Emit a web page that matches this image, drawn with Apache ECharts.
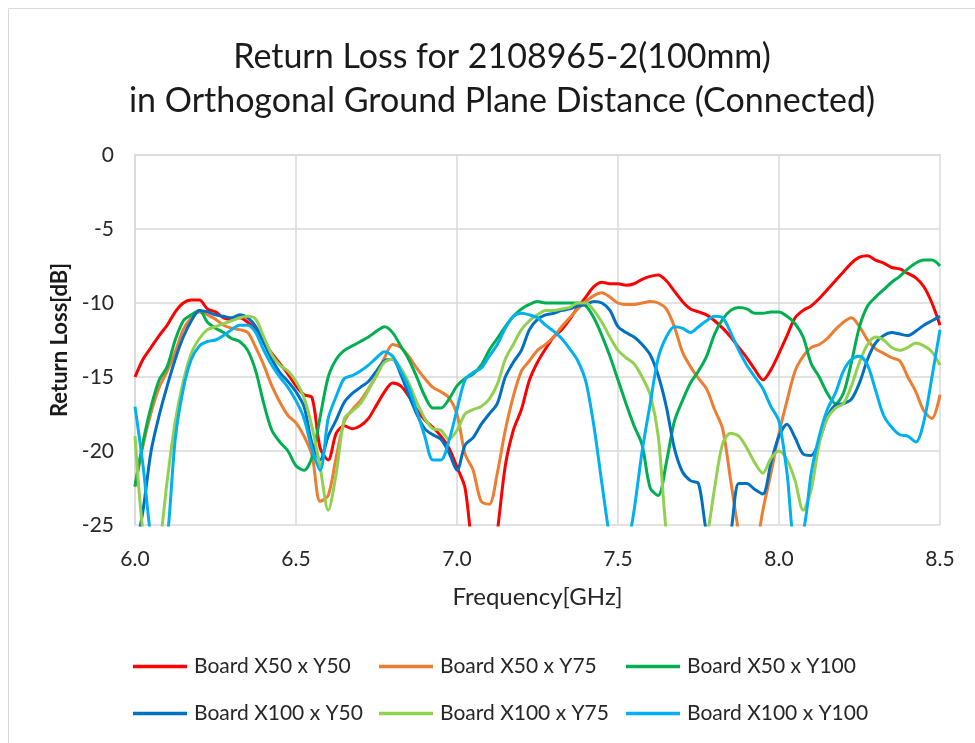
<!DOCTYPE html>
<html>
<head>
<meta charset="utf-8">
<script src="https://cdn.jsdelivr.net/npm/echarts@6/dist/echarts.min.js"></script>
<style>
  html, body { margin: 0; padding: 0; background: #ffffff; }
  #chart { width: 975px; height: 743px; }
</style>
</head>
<body>
<div id="chart"></div>
<script>
// Frequency sweep, 6.0 to 8.5 GHz in 25 MHz steps
const freqGHz = [];
for (let i = 0; i <= 100; i++) freqGHz.push(+(6 + i * 0.025).toFixed(3));

const seriesNames = [
  'Board X50 x Y50', 'Board X50 x Y75', 'Board X50 x Y100',
  'Board X100 x Y50', 'Board X100 x Y75', 'Board X100 x Y100'
];

// Return loss in dB (values below -25 fall outside the plotted range)
const x50y50 = [
  -15.0, -13.8, -13.0, -12.2, -11.5, -10.6, -10.0, -9.8, -9.8, -10.4,
  -10.6, -11.0, -11.1, -11.0, -11.3, -11.8, -12.6, -13.4, -14.1, -14.8,
  -15.6, -16.2, -16.4, -19.8, -20.6, -18.8, -18.3, -18.5, -18.3, -17.8,
  -16.9, -16.0, -15.4, -15.6, -16.3, -17.2, -17.9, -18.4, -19.0, -19.8,
  -21.1, -22.5, -27.0, -29.0, -29.0, -25.5, -21.0, -18.6, -17.2, -15.2,
  -14.0, -13.1, -12.3, -11.8, -11.1, -10.3, -9.6, -8.9, -8.6, -8.7,
  -8.7, -8.8, -8.7, -8.4, -8.2, -8.1, -8.5, -9.2, -9.9, -10.4,
  -10.6, -10.8, -11.2, -11.7, -12.3, -13.0, -13.7, -14.5, -15.2, -14.5,
  -13.4, -12.2, -11.0, -10.5, -10.2, -9.7, -9.1, -8.5, -7.9, -7.3,
  -6.9, -6.8, -7.1, -7.3, -7.6, -7.7, -8.0, -8.3, -8.9, -10.0,
  -11.5
];
const x50y75 = [
  -22.4, -19.6, -17.4, -15.7, -14.6, -13.3, -11.8, -11.0, -10.6, -10.8,
  -11.1, -11.5, -11.7, -11.8, -12.0, -13.0, -14.2, -15.6, -16.7, -17.6,
  -18.1, -19.0, -20.3, -23.4, -23.0, -20.4, -18.0, -17.2, -16.6, -15.8,
  -14.9, -13.7, -12.8, -13.0, -13.6, -14.4, -15.1, -15.7, -16.0, -16.4,
  -17.5, -20.2, -21.3, -23.4, -23.6, -21.5, -18.6, -16.3, -14.6, -13.9,
  -13.2, -12.8, -12.3, -11.6, -11.0, -10.4, -9.9, -9.5, -9.3, -9.6,
  -10.0, -10.1, -10.1, -10.0, -9.9, -10.0, -10.4, -11.6, -13.3, -14.3,
  -15.1, -15.8, -17.2, -18.5, -22.0, -25.5, -28.0, -27.0, -24.0, -21.5,
  -18.8, -16.6, -14.6, -13.6, -13.0, -12.8, -12.4, -11.8, -11.3, -11.0,
  -11.6, -12.5, -13.1, -13.4, -13.7, -13.9, -15.0, -16.0, -17.3, -17.8,
  -16.2
];
const x50y100 = [
  -22.4, -19.4, -17.0, -15.2, -14.3, -12.5, -11.2, -10.8, -10.5, -11.3,
  -11.7, -12.0, -12.4, -12.6, -13.2, -14.6, -16.8, -18.6, -19.4, -20.0,
  -21.0, -21.3, -20.4, -17.7, -15.0, -13.8, -13.2, -12.9, -12.6, -12.3,
  -11.9, -11.6, -12.0, -12.9, -13.8, -15.0, -16.3, -17.1, -17.1, -16.5,
  -15.6, -15.1, -14.8, -14.2, -13.2, -12.4, -11.6, -10.9, -10.4, -10.1,
  -9.9, -10.0, -10.0, -10.0, -10.0, -10.0, -10.2, -11.0, -12.2, -13.6,
  -15.2, -16.8, -18.3, -19.6, -22.5, -23.0, -20.8, -18.0, -16.6, -15.4,
  -14.6, -13.6, -12.1, -11.1, -10.5, -10.3, -10.4, -10.7, -10.7, -10.6,
  -10.6, -10.9, -11.4, -12.3, -14.1, -15.0, -16.1, -16.8, -16.1, -14.0,
  -11.6, -10.2, -9.6, -9.1, -8.6, -8.2, -7.7, -7.3, -7.1, -7.1,
  -7.5
];
const x100y50 = [
  -27.0, -24.0, -20.0, -17.6, -15.6, -13.8, -12.3, -11.2, -10.5, -10.6,
  -10.8, -10.9, -11.0, -10.8, -11.0, -11.6, -12.7, -13.8, -14.7, -15.3,
  -16.0, -17.0, -19.5, -20.6, -19.0, -17.9, -16.7, -16.1, -15.7, -15.3,
  -14.6, -13.9, -13.8, -14.8, -16.2, -17.5, -18.5, -18.9, -19.2, -20.1,
  -21.3, -19.6, -19.1, -18.2, -17.5, -16.8, -15.0, -14.0, -13.2, -11.8,
  -11.1, -10.8, -10.7, -10.5, -10.4, -10.2, -10.1, -9.9, -10.0, -10.5,
  -11.6, -12.0, -12.3, -12.8, -13.5, -14.9, -17.0, -19.8, -21.4, -22.0,
  -22.2, -25.5, -27.0, -27.0, -25.5, -22.2, -22.2, -22.6, -22.9, -20.8,
  -19.0, -18.2, -19.1, -20.2, -20.3, -19.3, -17.7, -16.9, -16.8, -16.5,
  -15.4, -13.8, -12.7, -12.2, -12.0, -12.1, -12.2, -11.9, -11.5, -11.2,
  -10.9
];
const x100y75 = [
  -19.0, -25.5, -28.0, -26.5, -22.0, -18.0, -15.3, -13.4, -12.4, -11.8,
  -11.6, -11.4, -11.2, -11.0, -10.9, -11.1, -12.3, -13.5, -14.2, -14.6,
  -15.3, -16.4, -18.4, -21.1, -24.0, -21.5, -17.8, -17.3, -16.8, -15.9,
  -14.9, -14.0, -13.8, -14.4, -15.4, -16.7, -17.8, -18.5, -18.6, -19.2,
  -18.6, -17.5, -17.2, -17.0, -16.5, -15.5, -13.8, -12.8, -11.8, -11.2,
  -10.8, -10.5, -10.5, -10.4, -10.3, -10.0, -10.0, -10.5, -11.3, -12.3,
  -13.2, -13.7, -14.1, -15.0, -16.2, -19.0, -25.5, -29.0, -30.0, -29.0,
  -28.0, -26.0, -22.5, -19.5, -18.8, -19.0, -19.8, -20.8, -21.5, -20.5,
  -20.0, -20.6, -22.0, -24.0, -22.6, -19.5, -17.8, -17.1, -16.8, -15.6,
  -14.0, -12.8, -12.3, -12.5, -13.0, -13.2, -13.0, -12.7, -12.9, -13.3,
  -14.2
];
const x100y100 = [
  -17.0, -21.0, -26.0, -29.0, -26.0, -19.2, -15.8, -13.8, -12.9, -12.6,
  -12.5, -12.2, -11.8, -11.5, -11.5, -12.0, -13.2, -14.2, -15.0, -15.7,
  -16.6, -17.8, -19.9, -21.3, -17.8, -16.3, -15.1, -14.9, -14.6, -14.2,
  -13.7, -13.3, -13.6, -14.6, -15.7, -17.3, -19.0, -20.6, -20.6, -19.3,
  -17.2, -15.2, -14.7, -14.4, -13.6, -12.8, -11.7, -10.9, -10.7, -10.8,
  -11.0, -11.5, -11.9, -12.4, -13.1, -13.9, -15.3, -18.3, -22.2, -26.0,
  -29.0, -27.0, -24.0, -20.0, -16.8, -13.7, -12.3, -11.6, -11.7, -12.0,
  -11.6, -11.2, -10.9, -11.0, -12.0, -13.2, -14.2, -15.0, -15.8, -17.0,
  -18.0, -21.5, -26.0, -25.5, -21.5, -19.0, -17.2, -16.1, -14.6, -13.8,
  -13.6, -14.2, -15.9, -17.6, -18.4, -18.9, -19.0, -19.4, -18.0, -15.0,
  -11.8
];

const seriesValues = [x50y50, x50y75, x50y100, x100y50, x100y75, x100y100];
const seriesColors = ['#ff0000', '#ed7d31', '#00b050', '#0070c0', '#92d050', '#00b0f0'];

const xTicks = { min: 6.0, max: 8.5, step: 0.5 };
const yTicks = { min: -25, max: 0, step: 5 };

const FONT = 'Lato, "Noto Sans", sans-serif';

const chart = echarts.init(document.getElementById('chart'), null, { renderer: 'canvas' });

// One legend block per entry, laid out in two rows of three
const legendCols = [133, 379, 626];
const legendRows = [656, 703];
const legends = seriesNames.map((name, i) => ({
  left: legendCols[i % 3],
  top: legendRows[Math.floor(i / 3)],
  padding: 0,
  data: [name],
  icon: 'rect',
  itemWidth: 54,
  itemHeight: 3.5,
  itemGap: 0,
  textStyle: { fontFamily: FONT, fontSize: 21, color: '#262626', padding: [0, 0, 0, 2] },
  selectedMode: false
}));

chart.setOption({
  animation: false,
  backgroundColor: '#ffffff',
  graphic: [{
    type: 'rect',
    shape: { x: 8.5, y: 8.5, width: 1200, height: 1200 },
    style: { fill: 'none', stroke: '#d9d9d9', lineWidth: 1 },
    silent: true
  }],
  title: {
    text: 'Return Loss for 2108965-2(100mm)\nin Orthogonal Ground Plane Distance (Connected)',
    left: 497,
    textAlign: 'center',
    top: 30,
    textStyle: { fontFamily: FONT, fontSize: 34, fontWeight: 'normal', color: '#1a1a1a', lineHeight: 44 }
  },
  legend: legends,
  grid: { left: 135, right: 35, top: 155, bottom: 218, containLabel: false },
  xAxis: {
    type: 'value',
    min: xTicks.min,
    max: xTicks.max,
    interval: xTicks.step,
    name: 'Frequency[GHz]',
    nameLocation: 'middle',
    nameGap: 60,
    nameTextStyle: { fontFamily: FONT, fontSize: 24, color: '#262626' },
    axisLine: { show: true, lineStyle: { color: '#d9d9d9', width: 1.5 } },
    axisTick: { show: false },
    axisLabel: { fontFamily: FONT, fontSize: 21, color: '#262626', margin: 24, formatter: v => v.toFixed(1) },
    splitLine: { show: true, lineStyle: { color: '#d9d9d9', width: 1.5 } }
  },
  yAxis: {
    type: 'value',
    min: yTicks.min,
    max: yTicks.max,
    interval: yTicks.step,
    name: 'Return Loss[dB]',
    nameLocation: 'middle',
    nameGap: 64,
    nameTextStyle: { fontFamily: FONT, fontSize: 22, fontWeight: 'bold', color: '#1a1a1a' },
    axisLine: { show: true, lineStyle: { color: '#d9d9d9', width: 1.5 } },
    axisTick: { show: false },
    axisLabel: { fontFamily: FONT, fontSize: 21, color: '#262626', margin: 21 },
    splitLine: { show: true, lineStyle: { color: '#d9d9d9', width: 1.5 } }
  },
  series: seriesNames.map((name, i) => ({
    name: name,
    type: 'line',
    data: freqGHz.map((f, k) => [f, seriesValues[i][k]]),
    showSymbol: false,
    symbol: 'none',
    clip: true,
    smooth: 0.3,
    lineStyle: { color: seriesColors[i], width: 3 },
    itemStyle: { color: seriesColors[i] },
    emphasis: { disabled: true }
  }))
});
</script>
</body>
</html>
